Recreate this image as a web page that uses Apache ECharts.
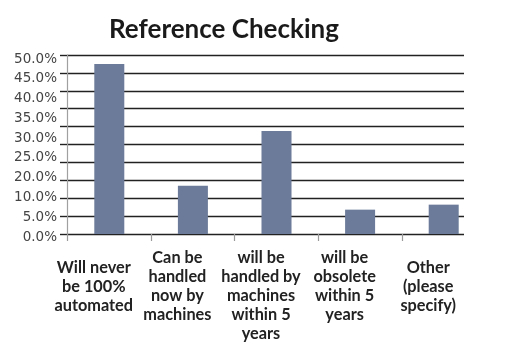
<!DOCTYPE html>
<html>
<head>
<meta charset="utf-8">
<script src="https://cdn.jsdelivr.net/npm/echarts@6/dist/echarts.min.js"></script>
<style>
html,body{margin:0;padding:0;background:#fff;}
#chart{width:519px;height:358px;}
</style>
</head>
<body>
<div id="chart"></div>
<script>
const titleText = 'Reference Checking';
const categories = [
  'Will never\nbe 100%\nautomated',
  'Can be\nhandled\nnow by\nmachines',
  'will be\nhandled by\nmachines\nwithin 5\nyears',
  'will be\nobsolete\nwithin 5\nyears',
  'Other\n(please\nspecify)'
];
const values = [47.5, 13.5, 28.8, 6.8, 8.2];
const tickLabels = ['0.0%', '5.0%', '10.0%', '20.0%', '25.0%', '30.0%', '35.0%', '40.0%', '45.0%', '50.0%'];

const chart = echarts.init(document.getElementById('chart'), null, {renderer: 'canvas'});
const catFont = {fontFamily: 'Lato', fontWeight: 'bold', fontSize: 16.3, color: '#222', lineHeight: 19};
const hidden = {show: false};

chart.setOption({
  animation: false,
  backgroundColor: '#fff',
  title: {
    text: titleText,
    left: 104, top: 12,
    textStyle: {fontFamily: 'Lato', fontWeight: 'bold', fontSize: 26, color: '#1a1a1a'}
  },
  grid: [
    {left: 67, top: 55, width: 397, height: 179},      // gridlines
    {left: 67.5, top: 55, width: 418, height: 179},    // bars
    {left: 52, top: 55, width: 418, height: 179},      // category labels
    {left: 67, top: 59, width: 10, height: 178},       // y tick labels
    {left: 67.5, top: 55, width: 334.4, height: 179}   // x ticks
  ],
  xAxis: [
    {gridIndex: 0, type: 'value', min: 0, max: 1, show: false},
    {gridIndex: 1, type: 'category', data: categories, axisLine: hidden, axisTick: hidden, axisLabel: hidden},
    {gridIndex: 2, type: 'category', data: categories, axisLine: hidden, axisTick: hidden,
      axisLabel: {
        interval: 0, margin: 14, align: 'center',
        formatter: function (v) {
          const lines = v.split('\n');
          const body = lines.map(l => '{n|' + l + '}').join('\n');
          return lines.length === 3 ? '{g| }\n' + body : body;
        },
        rich: {
          n: Object.assign({}, catFont),
          g: {fontSize: 4, lineHeight: 10}
        }
      }
    },
    {gridIndex: 3, type: 'value', show: false},
    {gridIndex: 4, type: 'category', data: categories.slice(0, 4), axisLine: hidden, axisLabel: hidden,
      axisTick: {show: true, length: 7, lineStyle: {color: '#9a9a9a', width: 1.2}}}
  ],
  yAxis: [
    {gridIndex: 0, type: 'value', min: 0, max: 50, interval: 5,
      axisLabel: hidden,
      axisLine: {show: true, lineStyle: {color: '#a0a0a0', width: 1.2}},
      axisTick: {show: true, length: 7, lineStyle: {color: '#222', width: 1.4}},
      splitLine: {show: true, lineStyle: {color: '#222', width: 1.4}}
    },
    {gridIndex: 1, type: 'value', min: 0, max: 50, show: false},
    {gridIndex: 2, type: 'value', show: false},
    {gridIndex: 3, type: 'category', data: tickLabels, boundaryGap: false,
      axisLine: hidden, axisTick: hidden, splitLine: hidden,
      axisLabel: {interval: 0, margin: 10, fontFamily: 'DejaVu Sans', fontSize: 13.5, color: '#444'}
    },
    {gridIndex: 4, type: 'value', show: false}
  ],
  series: [{
    type: 'bar',
    xAxisIndex: 1, yAxisIndex: 1,
    data: values,
    barWidth: 30,
    itemStyle: {color: '#6b7b99'}
  }]
});
</script>
</body>
</html>
